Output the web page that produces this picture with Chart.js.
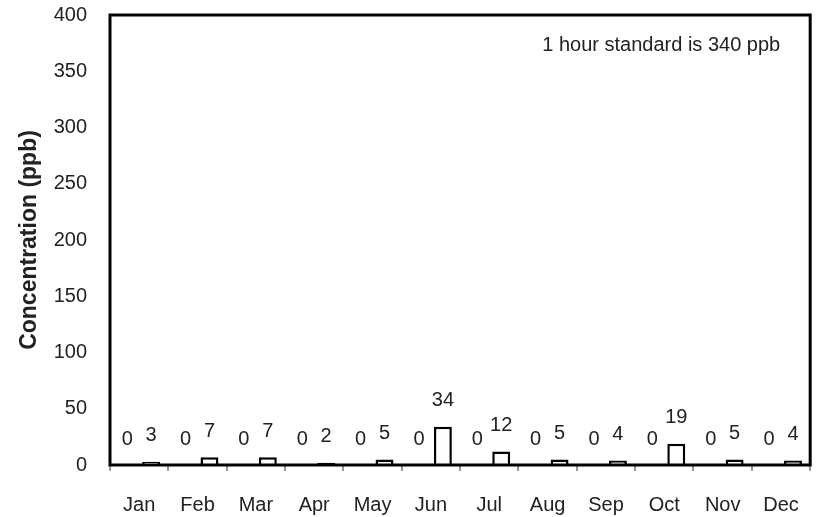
<canvas id='myChart'></canvas>
<script src='https://cdn.jsdelivr.net/npm/chart.js'></script>
<script>
    // monthly max 1 hour values
    let labels = ['Jan', 'Feb', 'Mar', 'Apr', 'May', 'Jun', 'Jul', 'Aug', 'Sep', 'Oct', 'Nov', 'Dec'];
    let exceedances = [0, 0, 0, 0, 0, 0, 0, 0, 0, 0, 0, 0];
    let maxValues = [3, 7, 7, 2, 5, 34, 12, 5, 4, 19, 5, 4];
    let yTicks = [0, 50, 100, 150, 200, 250, 300, 350, 400];
    let note = '1 hour standard is 340 ppb';

    let canvas = document.getElementById('myChart');
    canvas.style.width = '821px';
    canvas.style.height = '517px';
    document.body.style.margin = '0';

    const font = 'Liberation Sans, Arial, sans-serif';

    // value labels over bars, frame and the note
    const extras = {
        id: 'extras',
        afterDatasetsDraw(chart) {
            let ctx = chart.ctx;
            let area = chart.chartArea;
            ctx.save();
            ctx.font = '20px ' + font;
            ctx.fillStyle = '#222';
            ctx.textAlign = 'center';
            ctx.textBaseline = 'middle';
            chart.data.datasets.forEach(function (ds, i) {
                chart.getDatasetMeta(i).data.forEach(function (bar, j) {
                    ctx.fillText(String(ds.data[j]), bar.x, bar.y - 26);
                });
            });
            ctx.strokeStyle = '#000';
            ctx.lineWidth = 3;
            ctx.strokeRect(area.left, area.top, area.right - area.left, area.bottom - area.top);
            ctx.textAlign = 'right';
            ctx.fillText(note, area.right - 30, area.top + 30);
            ctx.restore();
        }
    };

    new Chart(canvas, {
        type: 'bar',
        data: {
            labels: labels,
            datasets: [{
                label: 'Exceedances',
                data: exceedances,
                backgroundColor: '#000',
                borderWidth: 0,
                categoryPercentage: 0.82,
                barPercentage: 0.75,
            }, {
                label: 'Max',
                data: maxValues,
                backgroundColor: '#fff',
                borderColor: '#000',
                borderWidth: 2.5,
                categoryPercentage: 0.82,
                barPercentage: 0.75,
            }],
        },
        options: {
            responsive: false,
            animation: false,
            layout: {padding: {left: 16, right: 5, top: 0, bottom: 0}},
            plugins: {legend: {display: false}, tooltip: {enabled: false}},
            scales: {
                x: {
                    grid: {display: true, drawOnChartArea: false, offset: true, tickLength: 6, color: '#999', lineWidth: 2},
                    border: {display: false},
                    ticks: {color: '#222', font: {family: font, size: 20}, padding: 22},
                    afterFit: function (scale) { scale.height = 52; },
                },
                y: {
                    min: 0,
                    max: 400,
                    afterBuildTicks: function (scale) { scale.ticks = yTicks.map(v => ({value: v})); },
                    grid: {display: false},
                    border: {display: false},
                    ticks: {color: '#222', font: {family: font, size: 20}, padding: 15},
                    title: {display: true, text: 'Concentration (ppb)', color: '#222', font: {family: font, size: 23, weight: 'bold'}, padding: 0},
                    afterFit: function (scale) {
                        scale.width = 94;
                        scale.paddingTop = 15;
                    },
                },
            },
        },
        plugins: [extras],
    });
</script>
